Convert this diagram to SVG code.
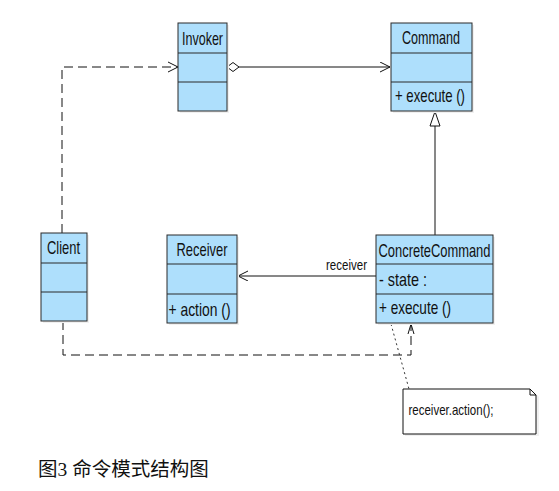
<svg xmlns="http://www.w3.org/2000/svg" width="559" height="491" viewBox="0 0 559 491">
<style>
.box{fill:#AEDFFC;stroke:#2b2b2b;stroke-width:1}
.shadow{fill:#f0f0f0}
.div{stroke:#2b2b2b;stroke-width:1}
.name{font-family:"Liberation Sans",Arial,sans-serif;font-size:19px;fill:#111;text-anchor:middle}
.mem{font-family:"Liberation Sans",Arial,sans-serif;font-size:18.5px;fill:#111}
.lbl{font-family:"Liberation Sans",Arial,sans-serif;font-size:14.5px;fill:#111}
.ln{fill:none;stroke:#111;stroke-width:1}
.dash{fill:none;stroke:#111;stroke-width:1;stroke-dasharray:9,5}
.dot{fill:none;stroke:#333;stroke-width:1;stroke-dasharray:2,3}
.cap{font-family:"Liberation Serif","Noto Sans CJK SC",serif;font-size:19.5px;fill:#111}
</style>
<defs>
<marker id="open" markerWidth="12" markerHeight="12" refX="10" refY="5" orient="auto" markerUnits="userSpaceOnUse">
<path d="M0,0 L10,5 L0,10" fill="none" stroke="#111" stroke-width="1"/>
</marker>
</defs>

<g id="connectors">
<path class="ln" d="M239,67 L390,67" marker-end="url(#open)"/>
<path d="M227,67 L233,62.5 L239,67 L233,71.5 Z" fill="#fff" stroke="#111" stroke-width="1"/>
<path class="dash" d="M62,233 L62,67 L177,67"/>
<path class="ln" d="M168,62 L178,67 L168,72"/>
<path class="ln" d="M435,235 L435,126"/>
<path d="M435,111.5 L430,126 L440,126 Z" fill="#fff" stroke="#111" stroke-width="1"/>
<path class="ln" d="M376,276 L238,276" marker-end="url(#open)"/>
<text class="lbl" x="326" y="270" textLength="41" lengthAdjust="spacingAndGlyphs">receiver</text>
<path class="dash" d="M63,321 L63,355 L411,355 L411,325"/>
<path class="ln" d="M408,334 L411,324 L414,334"/>
<path class="dot" d="M391,324 L409,389"/>
</g>

<g id="Invoker">
<rect class="shadow" x="180" y="25" width="49" height="88"/>
<rect class="box" x="178" y="23" width="49" height="88"/>
<line class="div" x1="178" y1="53" x2="227" y2="53"/>
<line class="div" x1="178" y1="82" x2="227" y2="82"/>
<text class="name" x="202.5" y="44.5" textLength="41" lengthAdjust="spacingAndGlyphs">Invoker</text>
</g>

<g id="Command">
<rect class="shadow" x="393" y="25" width="81" height="88"/>
<rect class="box" x="391" y="23" width="81" height="88"/>
<line class="div" x1="391" y1="53" x2="472" y2="53"/>
<line class="div" x1="391" y1="82" x2="472" y2="82"/>
<text class="name" x="431" y="44" textLength="58" lengthAdjust="spacingAndGlyphs">Command</text>
<text class="mem" x="395" y="101.5" textLength="70" lengthAdjust="spacingAndGlyphs">+ execute ()</text>
</g>

<g id="Client">
<rect class="shadow" x="43" y="235" width="46" height="88"/>
<rect class="box" x="41" y="233" width="46" height="88"/>
<line class="div" x1="41" y1="263" x2="87" y2="263"/>
<line class="div" x1="41" y1="292" x2="87" y2="292"/>
<text class="name" x="63.5" y="253.5" textLength="33" lengthAdjust="spacingAndGlyphs">Client</text>
</g>

<g id="Receiver">
<rect class="shadow" x="169" y="237" width="70" height="88"/>
<rect class="box" x="167" y="235" width="70" height="88"/>
<line class="div" x1="167" y1="264" x2="237" y2="264"/>
<line class="div" x1="167" y1="294" x2="237" y2="294"/>
<text class="name" x="202" y="256" textLength="51" lengthAdjust="spacingAndGlyphs">Receiver</text>
<text class="mem" x="168.5" y="315.5" textLength="62" lengthAdjust="spacingAndGlyphs">+ action ()</text>
</g>

<g id="ConcreteCommand">
<rect class="shadow" x="378" y="237" width="117" height="88"/>
<rect class="box" x="376" y="235" width="117" height="88"/>
<line class="div" x1="376" y1="264" x2="493" y2="264"/>
<line class="div" x1="376" y1="294" x2="493" y2="294"/>
<text class="name" x="434.5" y="256.5" textLength="112" lengthAdjust="spacingAndGlyphs">ConcreteCommand</text>
<text class="mem" x="379" y="285.5" textLength="48" lengthAdjust="spacingAndGlyphs">- state :</text>
<text class="mem" x="379" y="314" textLength="72" lengthAdjust="spacingAndGlyphs">+ execute ()</text>
</g>

<g id="Note">
<path d="M405,391 L533,391 L539,397 L539,436 L405,436 Z" fill="#f0f0f0"/>
<path d="M403,389 L530,389 L536,395 L536,434 L403,434 Z" fill="#fff" stroke="#111" stroke-width="1"/>
<path d="M530,389 L530,395 L536,395" fill="none" stroke="#111" stroke-width="1"/>
<text class="lbl" x="408.5" y="414.5" textLength="85" lengthAdjust="spacingAndGlyphs">receiver.action();</text>
</g>

<text class="cap" x="38" y="476">图3 命令模式结构图</text>
</svg>
